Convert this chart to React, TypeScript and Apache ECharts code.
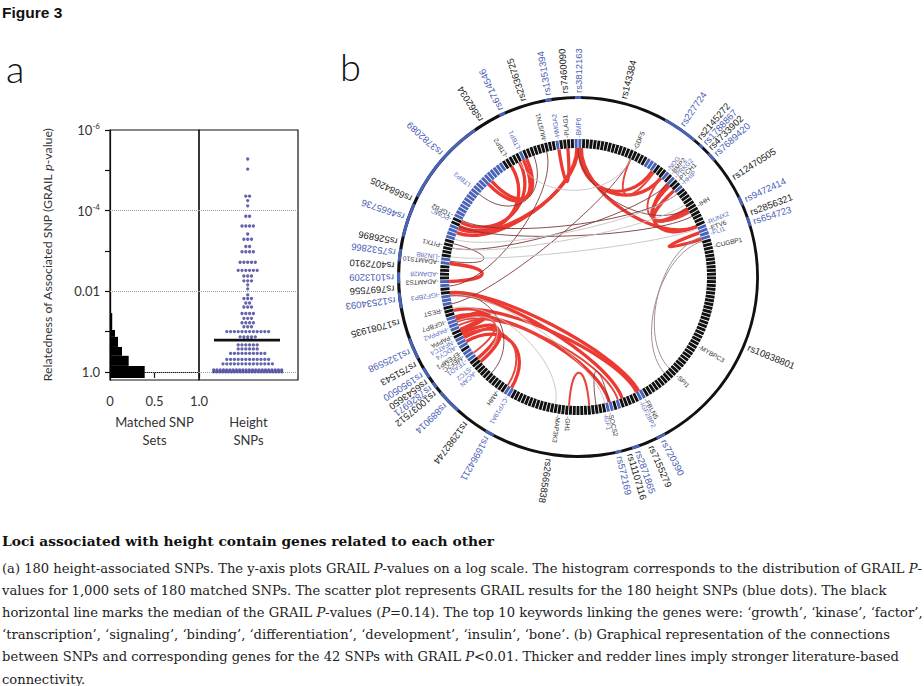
import React, { useEffect, useRef } from "react";
import * as echarts from "echarts";

// ---------------- Panel a data (values as -log10 GRAIL P) ----------------
const histBinStart = [-0.15, 0.15, 0.4, 0.62, 0.87, 1.04, 1.46];
const histBinEnd = [0.15, 0.4, 0.62, 0.87, 1.04, 1.46, 1.98];
const histFraction = [0.39, 0.21, 0.135, 0.09, 0.056, 0.025, 0.012];

const swarmLevels = [5.28, 5.03, 4.36, 4.25, 4.12, 3.86, 3.62, 3.42, 3.29, 3.11, 2.98, 2.72, 2.52, 2.38, 2.26, 2.16, 2.06, 1.91, 1.82, 1.71, 1.61, 1.45, 1.33, 1.22, 1.12, 1.0, 0.87, 0.8, 0.67, 0.57, 0.46, 0.31, 0.2, 0.05, 0.0];
const swarmCounts = [1, 1, 2, 1, 1, 2, 4, 1, 3, 2, 4, 5, 6, 3, 3, 1, 1, 1, 3, 2, 3, 4, 3, 4, 3, 12, 5, 3, 6, 6, 10, 12, 14, 22, 24];
const medianLevel = 0.79;
const yTickValues = [0, 1, 2, 3, 4, 5, 6];
const yLabelValues = [0, 2, 4, 6];
const gridLineValues = [0, 2, 4];

// ---------------- Panel b data (angles clockwise from top, degrees) ----------------
const snpNames = ["rs3812163", "rs7460090", "rs1351394", "rs2336725", "rs6714546", "rs862034", "rs3782089", "rs6684205", "rs4665736", "rs526896", "rs7532866", "rs4072910", "rs1013209", "rs7697556", "rs12534093", "rs17081935", "rs1325598", "rs751543", "rs1950500", "rs6543650", "rs7826971", "rs10037512", "rs889014", "rs12982744", "rs16964211", "rs2665838", "rs572169", "rs11107116", "rs2871865", "rs7155279", "rs720390", "rs10838801", "rs654723", "rs2856321", "rs9472414", "rs12470505", "rs7689420", "rs4733902", "rs1788867", "rs2145272", "rs227724", "rs143384"];
const snpAngles = [0, 355.9, 350.5, 342.6, 335, 328, 312, 295, 289, 281, 277.6, 273.5, 269.8, 266.3, 262.7, 255.7, 246, 241.6, 237.8, 235.2, 233, 230.8, 226, 217.4, 209.5, 189, 166.9, 163.5, 160.9, 156.5, 152.3, 112.4, 72.3, 69.4, 65, 57.2, 48.2, 45.6, 43.4, 41, 34.4, 14.3];
const snpBlue = [1, 0, 1, 0, 1, 0, 1, 0, 1, 0, 1, 0, 1, 0, 1, 0, 1, 0, 1, 0, 1, 0, 1, 0, 1, 0, 1, 0, 1, 0, 1, 0, 1, 0, 1, 0, 1, 0, 1, 0, 1, 0];

const outerBlueFrom = [359, 349.5, 334, 296.5, 283, 275, 268, 260, 243, 236, 232, 222, 208, 166, 160, 151, 29, 42.5, 46.5, 63.5, 70.5];
const outerBlueTo = [361, 351.5, 336, 325, 294, 279, 271.5, 265, 250, 239.5, 234, 230, 211, 168, 162.5, 154, 40.5, 44, 49.5, 66.5, 73.5];

const innerBlueFrom = [359, 350.5, 334, 295.5, 286, 275, 265, 258, 247, 238, 232, 209, 165, 161, 151, 71, 67, 47.5, 43, 39.5, 31];
const innerBlueTo = [361, 352.5, 336.5, 327, 292.5, 278, 268, 262, 252, 243, 236, 212, 168, 163, 154, 74, 70, 50, 45.5, 42, 35];

const geneNames = ["BMP6", "PLAG1", "HMGA2", "MUSTN1", "LTBP1", "LTBP2", "LTBP3", "TGFB2", "POMC", "PITX1", "LIN28B", "ADAMTS10", "ADAM28", "ADAMTS3", "IGF2BP3", "REST", "IGFBP7", "PAPPA2", "PAPPA", "NFATC4", "ADCY4", "EFEMP1", "MEF2C", "TEAD1", "STC2", "ACAN", "AMH", "CYP19A1", "MAP3K3", "GH1", "IGF1", "SOCS2", "IGF2BP2", "FBLN5", "SPI1", "MYBPC3", "CUGBP1", "FLI1", "ETV6", "RUNX2", "IHH", "HHIP", "PTCH1", "PRKG2", "BMP2", "NOG", "GDF5"];
const geneAngles = [0, 355.3, 351.5, 346, 335, 329, 310, 296, 294.3, 283, 278, 276, 271, 268, 262.6, 256, 251, 248, 244.5, 242.3, 240, 237, 235, 233, 229.5, 227, 215, 210.5, 188, 184, 168.5, 166.5, 153, 150.8, 134.7, 119.8, 77, 71.6, 69.6, 67, 59, 48, 46, 44, 42, 40, 24];
const geneBlue = [1, 0, 1, 0, 1, 0, 1, 0, 1, 0, 1, 0, 1, 0, 1, 0, 0, 1, 0, 1, 1, 0, 0, 1, 1, 1, 0, 1, 0, 0, 1, 0, 1, 0, 0, 0, 0, 1, 0, 1, 0, 1, 0, 1, 0, 1, 0];

// links: from angle, to angle, strength (3 strong red ... 0 faint grey)
const linkFrom = [0, 359.5, 335, 336.5, 329, 333, 351.5, 0.5, 1, 1.5, 44, 45, 48, 40, 70, 24, 276, 285, 263, 262, 255, 252, 250, 251, 250, 244, 242, 248, 240, 243, 184, 172, 296, 293, 283, 346, 24, 262, 0, 310, 72, 74, 283, 287, 279, 333, 262, 256, 230];
const linkTo = [292, 290, 316, 318, 293, 295, 355.5, 35, 40, 67, 67, 59, 58, 60, 73, 36, 268, 277, 152, 160, 153, 166, 162, 246, 245, 231, 229, 234, 211, 213, 175, 166, 50, 62, 44, 266, 258, 222, 58, 340, 135, 138, 56, 50, 68, 24, 168, 190, 250];
const linkStrength = [3, 3, 3, 3, 3, 3, 3, 3, 3, 3, 3, 3, 3, 2, 3, 2, 3, 1, 3, 3, 3, 3, 2, 3, 3, 3, 3, 2, 3, 2, 2, 1, 1, 1, 1, 1, 1, 1, 1, 1, 0.5, 0.5, 0, 0, 0, 0, 0, 0, 0];

// ---------------- caption ----------------
const captionTitle = "Loci associated with height contain genes related to each other";
const captionLines = [
  "(a) 180 height-associated SNPs. The y-axis plots GRAIL {i|P}-values on a log scale. The histogram corresponds to the distribution of GRAIL {i|P}-",
  "values for 1,000 sets of 180 matched SNPs. The scatter plot represents GRAIL results for the 180 height SNPs (blue dots). The black",
  "horizontal line marks the median of the GRAIL {i|P}-values ({i|P}=0.14). The top 10 keywords linking the genes were: \u2018growth\u2019, \u2018kinase\u2019, \u2018factor\u2019,",
  "\u2018transcription\u2019, \u2018signaling\u2019, \u2018binding\u2019, \u2018differentiation\u2019, \u2018development\u2019, \u2018insulin\u2019, \u2018bone\u2019. (b) Graphical representation of the connections",
  "between SNPs and corresponding genes for the 42 SNPs with GRAIL {i|P}<0.01. Thicker and redder lines imply stronger literature-based",
  "connectivity.",
];

const SANS = '"Liberation Sans", Arial, sans-serif';
const AX = 'Lato, "Open Sans", sans-serif';
const SERIF = '"DejaVu Serif", "Liberation Serif", serif';
const BLUE = "#4a5db4";
const RING_BLUE = "#4a62b8";

const toRad = (t: number) => ((t - 90) * Math.PI) / 180;

function inRanges(t: number, from: number[], to: number[]) {
  for (let i = 0; i < from.length; i++) {
    const a = from[i], b = to[i];
    if ((t >= a && t <= b) || (t + 360 >= a && t + 360 <= b)) return true;
  }
  return false;
}

function center(api: any) {
  const c = api.coord([0, 0]);
  const p = api.coord([100, 90]);
  return { cx: c[0], cy: c[1], s: Math.hypot(p[0] - c[0], p[1] - c[1]) / 100 };
}

function linkStyle(st: number) {
  if (st >= 3) return { stroke: "#ec3a32", lineWidth: 3.3 };
  if (st >= 2) return { stroke: "#e8443b", lineWidth: 1.9 };
  if (st >= 1) return { stroke: "#7a3838", lineWidth: 0.9 };
  if (st >= 0.5) return { stroke: "#9a8585", lineWidth: 0.9 };
  return { stroke: "#c4c4c4", lineWidth: 0.9 };
}

export default function App() {
  const ref = useRef<HTMLDivElement>(null);
  useEffect(() => {
    if (!ref.current) return;
    const chart = echarts.init(ref.current, undefined, { renderer: "svg" });

    const swarmData: number[][] = [];
    swarmLevels.forEach((lv, r) => {
      const n = swarmCounts[r];
      const sp = n > 1 ? Math.min(3.8, 68 / (n - 1)) : 0;
      for (let i = 0; i < n; i++) swarmData.push([(i - (n - 1) / 2) * sp - 0.8, lv]);
    });

    const N = 225;
    const blockData = Array.from({ length: N }, (_, i) => [133, i]);

    const yLabel = (v: number) => {
      if (v === 0) return "1.0";
      if (v === 2) return "0.01";
      return "{b|10}{s|-" + v + "}";
    };

    const axText = { fontFamily: AX, fontSize: 13, color: "#333" };

    const option: any = {
      animation: false,
      backgroundColor: "#fff",
      grid: [
        { left: 110, top: 130, width: 89, height: 250, show: true, borderColor: "#111", borderWidth: 1.2 },
        { left: 199, top: 130, width: 99, height: 250, show: true, borderColor: "#111", borderWidth: 1.2 },
      ],
      xAxis: [
        {
          gridIndex: 0, type: "value", min: 0, max: 1, interval: 0.5,
          axisLine: { show: true, lineStyle: { color: "#111", width: 1.2 } },
          axisTick: { show: true, length: 6, lineStyle: { color: "#111", width: 1.2 } },
          axisLabel: { margin: 14, ...axText, formatter: (v: number) => (v === 0 ? "0" : v.toFixed(1)) },
          splitLine: { show: false },
          name: "Matched SNP\nSets", nameLocation: "middle", nameGap: 33,
          nameTextStyle: { ...axText, lineHeight: 18 },
        },
        {
          gridIndex: 1, type: "value", min: -49.5, max: 49.5,
          axisLine: { show: false }, axisTick: { show: false }, axisLabel: { show: false }, splitLine: { show: false },
          name: "Height\nSNPs", nameLocation: "middle", nameGap: 33,
          nameTextStyle: { ...axText, lineHeight: 18 },
        },
      ],
      yAxis: [
        {
          gridIndex: 0, type: "value", min: -0.2, max: 6,
          axisLine: { show: true, lineStyle: { color: "#111", width: 1.2 } },
          axisTick: { show: true, length: 5, customValues: yTickValues, lineStyle: { color: "#111", width: 1.2 } },
          axisLabel: {
            customValues: yLabelValues, margin: 10, ...axText, formatter: yLabel,
            rich: { b: { fontFamily: AX, fontSize: 13, color: "#333" }, s: { fontFamily: AX, fontSize: 8, color: "#333", padding: [0, 0, 8, 0] } },
          },
          splitLine: { show: false },
          name: "Relatedness of Associated SNP (GRAIL {i|p}-value)", nameLocation: "middle", nameGap: 57,
          nameTextStyle: { fontFamily: AX, fontSize: 12.3, color: "#333", rich: { i: { fontFamily: AX, fontSize: 12.3, color: "#333", fontStyle: "italic" } } },
        },
        { gridIndex: 1, type: "value", min: -0.2, max: 6, show: false },
      ],
      polar: { center: [578, 277], radius: 190 },
      angleAxis: { type: "value", min: 0, max: 360, startAngle: 90, clockwise: true, axisLine: { show: false }, axisTick: { show: false }, axisLabel: { show: false }, splitLine: { show: false } },
      radiusAxis: { type: "value", min: 0, max: 190, axisLine: { show: false }, axisTick: { show: false }, axisLabel: { show: false }, splitLine: { show: false } },
      series: [
        {
          type: "custom", name: "Matched SNP sets", xAxisIndex: 0, yAxisIndex: 0, z: 3,
          encode: { x: 2, y: [0, 1] },
          data: histFraction.map((f, i) => [histBinStart[i], histBinEnd[i], f]),
          renderItem: (params: any, api: any) => {
            const a = api.coord([0, api.value(1)]);
            const b = api.coord([api.value(2), api.value(0)]);
            return { type: "rect", shape: { x: a[0], y: a[1], width: b[0] - a[0], height: b[1] - a[1] }, style: { fill: "#000" } };
          },
          markLine: {
            silent: true, symbol: ["none", "none"], z: 1, label: { show: false },
            lineStyle: { type: "dotted", color: "#9a9a9a", width: 1 },
            data: gridLineValues.map((v) => ({ yAxis: v })),
          },
        },
        {
          type: "scatter", name: "Height SNPs", xAxisIndex: 1, yAxisIndex: 1, z: 3,
          symbolSize: 3.3, itemStyle: { color: "#3d3d99" },
          data: swarmData,
          markLine: {
            silent: true, symbol: ["none", "none"], z: 1, label: { show: false },
            lineStyle: { type: "dotted", color: "#9a9a9a", width: 1 },
            data: gridLineValues.map((v) => ({ yAxis: v })),
          },
        },
        {
          type: "line", name: "Median", xAxisIndex: 1, yAxisIndex: 1, z: 5, showSymbol: false,
          lineStyle: { color: "#111", width: 2.6 },
          data: [[-34.5, medianLevel], [31.5, medianLevel]],
        },
        // links
        {
          type: "custom", name: "links", coordinateSystem: "polar", z: 2,
          data: linkFrom.map((a, i) => [a, linkTo[i], linkStrength[i]]),
          renderItem: (params: any, api: any) => {
            const a = api.value(0), b = api.value(1), st = api.value(2);
            const c = api.coord([0, 0]);
            const p0 = api.coord([129, a]);
            const p3 = api.coord([129, b]);
            const k = 0.66;
            const ls = linkStyle(st);
            return {
              type: "bezierCurve",
              shape: {
                x1: p0[0], y1: p0[1], x2: p3[0], y2: p3[1],
                cpx1: c[0] + (p0[0] - c[0]) * k, cpy1: c[1] + (p0[1] - c[1]) * k,
                cpx2: c[0] + (p3[0] - c[0]) * k, cpy2: c[1] + (p3[1] - c[1]) * k,
              },
              style: { stroke: ls.stroke, lineWidth: ls.lineWidth, fill: null },
            };
          },
        },
        // outer ring
        {
          type: "custom", name: "outer ring", coordinateSystem: "polar", z: 3,
          data: [[180, 0, 361, 0]].concat(outerBlueFrom.map((a, i) => [180, a, outerBlueTo[i], 1])),
          renderItem: (params: any, api: any) => {
            const g = center(api);
            const a = api.value(1), b = api.value(2);
            return {
              type: "sector",
              shape: { cx: g.cx, cy: g.cy, r0: 178 * g.s, r: 181 * g.s, startAngle: toRad(a), endAngle: toRad(b), clockwise: true },
              style: { fill: api.value(3) ? RING_BLUE : "#111" },
            };
          },
        },
        // inner gene ring
        {
          type: "custom", name: "gene ring", coordinateSystem: "polar", z: 3,
          data: blockData,
          renderItem: (params: any, api: any) => {
            const g = center(api);
            const i = api.value(1);
            const w = 360 / N;
            const a = i * w + 0.18, b = (i + 1) * w - 0.18;
            const blue = inRanges((a + b) / 2, innerBlueFrom, innerBlueTo);
            return {
              type: "sector",
              shape: { cx: g.cx, cy: g.cy, r0: 129 * g.s, r: 138 * g.s, startAngle: toRad(a), endAngle: toRad(b), clockwise: true },
              style: { fill: blue ? RING_BLUE : "#111" },
            };
          },
        },
        // SNP labels
        {
          type: "custom", name: "SNP labels", coordinateSystem: "polar", z: 5,
          data: snpAngles.map((t) => [184, t]),
          renderItem: (params: any, api: any) => {
            const t = api.value(1);
            const p = api.coord([184, t]);
            return {
              type: "text", x: p[0], y: p[1], rotation: ((90 - t) * Math.PI) / 180,
              style: { text: snpNames[params.dataIndex], fill: snpBlue[params.dataIndex] ? BLUE : "#222", fontFamily: SANS, fontSize: 9.5, align: "left", verticalAlign: "middle" },
            };
          },
        },
        // gene labels
        {
          type: "custom", name: "gene labels", coordinateSystem: "polar", z: 5,
          data: geneAngles.map((t) => [140, t]),
          renderItem: (params: any, api: any) => {
            const t = api.value(1);
            const p = api.coord([139.5, t]);
            return {
              type: "text", x: p[0], y: p[1], rotation: ((90 - t) * Math.PI) / 180,
              style: { text: "-" + geneNames[params.dataIndex], fill: geneBlue[params.dataIndex] ? "#5a6cc0" : "#333", fontFamily: SANS, fontSize: 6.5, align: "left", verticalAlign: "middle" },
            };
          },
        },
      ],
      graphic: [
        { type: "text", x: 2, y: 12, style: { text: "Figure 3", fontFamily: SANS, fontWeight: "bold", fontSize: 15.5, fill: "#111", verticalAlign: "middle" } },
        { type: "text", x: 6, y: 68, style: { text: "a", fontFamily: AX, fontWeight: 300, fontSize: 38, fill: "#111", verticalAlign: "middle" } },
        { type: "text", x: 340, y: 66, style: { text: "b", fontFamily: AX, fontWeight: 300, fontSize: 38, fill: "#111", verticalAlign: "middle" } },
        { type: "text", x: 2, y: 541, style: { text: captionTitle, fontFamily: SERIF, fontWeight: "bold", fontSize: 13.8, fill: "#111", verticalAlign: "middle" } },
        ...captionLines.map((line, i) => ({
          type: "text", x: 2, y: 568 + i * 22.2,
          style: {
            text: line, fontFamily: SERIF, fontSize: 13.1, fill: "#222", verticalAlign: "middle",
            rich: { i: { fontFamily: SERIF, fontSize: 13.1, fontStyle: "italic", fill: "#222" } },
          },
        })),
      ],
    };

    chart.setOption(option);
    return () => chart.dispose();
  }, []);

  return <div ref={ref} style={{ position: "absolute", left: 0, top: 0, width: 924, height: 686, background: "#fff" }} />;
}
